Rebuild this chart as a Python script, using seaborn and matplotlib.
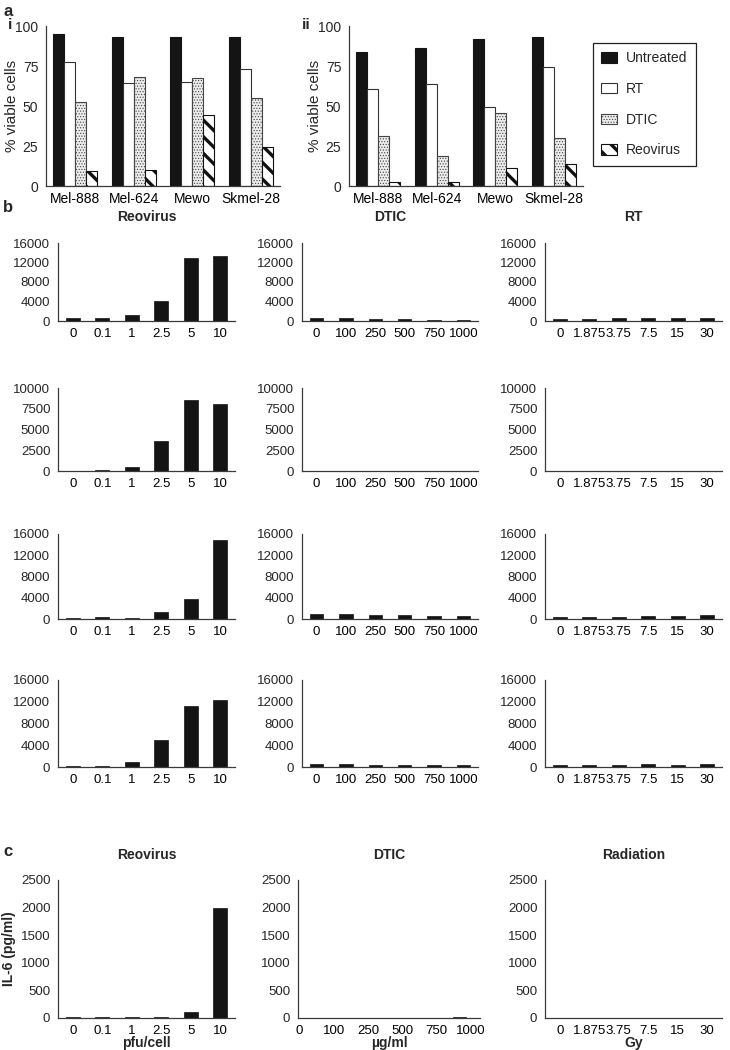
import numpy as np
import pandas as pd
import matplotlib
matplotlib.use("Agg")
import matplotlib.pyplot as plt
import seaborn as sns

# ---------------- data ----------------
cell_lines = ["Mel-888", "Mel-624", "Mewo", "Skmel-28"]
treatments = ["Untreated", "RT", "DTIC", "Reovirus"]

viable_i_untreated = [94.8, 93.1, 93.1, 93.3]
viable_i_rt = [77.7, 64.1, 65.1, 73.0]
viable_i_dtic = [52.2, 68.0, 67.8, 55.1]
viable_i_reovirus = [9.4, 9.8, 44.5, 24.4]

viable_ii_untreated = [83.9, 86.0, 91.6, 93.1]
viable_ii_rt = [60.8, 63.5, 49.5, 74.1]
viable_ii_dtic = [31.1, 18.8, 45.9, 30.0]
viable_ii_reovirus = [2.5, 2.5, 11.5, 14.0]

reo_doses = ["0", "0.1", "1", "2.5", "5", "10"]
dtic_doses = ["0", "100", "250", "500", "750", "1000"]
rt_doses = ["0", "1.875", "3.75", "7.5", "15", "30"]

b_reo_row1 = [600, 600, 1150, 4200, 12900, 13300]
b_reo_row2 = [50, 150, 450, 3600, 8550, 8050]
b_reo_row3 = [280, 380, 200, 1400, 3800, 14900]
b_reo_row4 = [150, 250, 950, 4900, 11200, 12300]

b_dtic_row1 = [700, 600, 500, 400, 300, 200]
b_dtic_row2 = [40, 60, 60, 50, 50, 40]
b_dtic_row3 = [900, 900, 800, 700, 600, 600]
b_dtic_row4 = [500, 500, 400, 400, 400, 300]

b_rt_row1 = [500, 500, 600, 600, 600, 600]
b_rt_row2 = [60, 20, 10, 60, 20, 10]
b_rt_row3 = [350, 300, 450, 600, 600, 700]
b_rt_row4 = [350, 350, 350, 500, 350, 600]

b_yticks_16k = [0, 4000, 8000, 12000, 16000]
b_yticks_10k = [0, 2500, 5000, 7500, 10000]

c_il6_reo = [10, 25, 15, 15, 100, 2000]
c_il6_dtic = [0, 0, 0, 0, 0, 20]
c_il6_rad = [0, 0, 0, 0, 0, 0]
c_yticks = [0, 500, 1000, 1500, 2000, 2500]

# ---------------- style ----------------
sns.set_theme(style="white")
ARIAL = ["Liberation Sans", "DejaVu Sans"]
NARROW = ["Liberation Sans Narrow", "Liberation Sans", "DejaVu Sans"]
plt.rcParams["font.family"] = ARIAL
plt.rcParams["hatch.linewidth"] = 0.6

W, H = 730, 1050
fig = plt.figure(figsize=(W / 100, H / 100), dpi=100)
AXC = "#3a3a3a"
BAR = "#141414"


def add_ax(x0, x1, ytop, ybot):
    return fig.add_axes([x0 / W, 1 - ybot / H, (x1 - x0) / W, (ybot - ytop) / H])


def style_axes(ax, ymax, yticks, labels, fam, fs, minor_pos=None, label_pos=None):
    for s in ["top", "right"]:
        ax.spines[s].set_visible(False)
    for s in ["left", "bottom"]:
        ax.spines[s].set_color(AXC)
        ax.spines[s].set_linewidth(0.9)
    n = len(labels)
    ax.set_ylim(0, ymax)
    ax.set_yticks(yticks)
    ax.set_yticklabels([str(t) for t in yticks], family=fam, fontsize=fs)
    ax.set_xlim(-0.5, n - 0.5)
    if label_pos is None:
        label_pos = np.arange(n)
    ax.set_xticks(label_pos)
    ax.set_xticklabels(labels, family=fam, fontsize=fs)
    if minor_pos is None:
        minor_pos = np.arange(n) + 0.5
    ax.set_xticks(minor_pos, minor=True)
    ax.tick_params(axis="x", which="major", length=0, pad=5, colors="black")
    ax.tick_params(axis="x", which="minor", length=3.5, width=0.8, color=AXC, direction="out")
    ax.tick_params(axis="y", length=3.5, width=0.8, color=AXC, direction="out", pad=2)
    ax.set_xlabel("")
    ax.set_ylabel("")
    ax.grid(False)


A_STYLES = [
    dict(facecolor=BAR, edgecolor=BAR, hatch=None, hlw=0.6),
    dict(facecolor="white", edgecolor="#333333", hatch=None, hlw=0.6),
    dict(facecolor="#ececec", edgecolor="#444444", hatch="......", hlw=0.5),
    dict(facecolor="white", edgecolor="#111111", hatch="\\\\", hlw=2.4),
]


def apply_style(p, st):
    p.set_facecolor(st["facecolor"])
    p.set_edgecolor(st["edgecolor"])
    p.set_linewidth(0.8)
    if st["hatch"]:
        p.set_hatch(st["hatch"])
        if hasattr(p, "set_hatch_linewidth"):
            p.set_hatch_linewidth(st["hlw"])


# ---------------- panel a ----------------
def panel_a(ax, vals):
    df = pd.DataFrame({
        "cell": cell_lines * 4,
        "treatment": np.repeat(treatments, 4),
        "value": np.concatenate(vals),
    })
    sns.barplot(data=df, x="cell", y="value", hue="treatment", order=cell_lines,
                hue_order=treatments, palette=[BAR] * 4, saturation=1, width=0.76,
                errorbar=None, ax=ax, legend=False)
    for cont, st in zip(ax.containers, A_STYLES):
        for p in cont.patches:
            apply_style(p, st)
    style_axes(ax, 100, [0, 25, 50, 75, 100], cell_lines, ARIAL, 10)
    ax.tick_params(axis="x", which="major", pad=4)
    ax.set_ylabel("% viable cells", fontsize=11)
    ax.yaxis.set_label_coords(-0.115, 0.5)
    return [c.patches[0] for c in ax.containers]


ax_ai = add_ax(46, 280, 26, 186)
handles = panel_a(ax_ai, [viable_i_untreated, viable_i_rt, viable_i_dtic, viable_i_reovirus])
ax_aii = add_ax(349, 583, 26, 186)
panel_a(ax_aii, [viable_ii_untreated, viable_ii_rt, viable_ii_dtic, viable_ii_reovirus])

leg = fig.legend(handles, treatments, loc="upper left",
                 bbox_to_anchor=(593 / W, 1 - 43 / H), bbox_transform=fig.transFigure,
                 frameon=True, fancybox=False, edgecolor="#222222", framealpha=1,
                 labelspacing=1.2, handlelength=1.15, handleheight=0.75,
                 borderpad=0.6, handletextpad=0.65, fontsize=10, borderaxespad=0)
leg.get_frame().set_linewidth(0.9)
for h, st in zip(leg.legend_handles, A_STYLES):
    apply_style(h, st)

fig.text(4 / W, 1 - 11 / H, "a", fontsize=12, fontweight="bold", va="center")
fig.text(8 / W, 1 - 25 / H, "i", fontsize=11, fontweight="bold", va="center")
fig.text(302 / W, 1 - 25 / H, "ii", fontsize=11, fontweight="bold", va="center")

# ---------------- panel b ----------------
b_rows = [(243, 321), (388, 471), (534, 619), (680, 767)]
b_cols = [(58, 235), (302, 478), (545, 722)]
b_data = [
    [b_reo_row1, b_dtic_row1, b_rt_row1],
    [b_reo_row2, b_dtic_row2, b_rt_row2],
    [b_reo_row3, b_dtic_row3, b_rt_row3],
    [b_reo_row4, b_dtic_row4, b_rt_row4],
]
b_row_ticks = [b_yticks_16k, b_yticks_10k, b_yticks_16k, b_yticks_16k]
col_doses = [reo_doses, dtic_doses, rt_doses]
b_titles = ["Reovirus", "DTIC", "RT"]
FS = 9.5

for r, (yt, yb) in enumerate(b_rows):
    for c, (x0, x1) in enumerate(b_cols):
        ax = add_ax(x0, x1, yt, yb)
        doses = col_doses[c]
        sns.barplot(x=doses, y=b_data[r][c], order=doses, color=BAR, saturation=1,
                    width=0.46, edgecolor=BAR, linewidth=0.5, errorbar=None, ax=ax)
        ticks = b_row_ticks[r]
        style_axes(ax, ticks[-1], ticks, doses, NARROW, FS)
        if r == 0:
            ax.set_title(b_titles[c], family=NARROW, fontsize=10, fontweight="bold", pad=16)

fig.text(3 / W, 1 - 207 / H, "b", fontsize=12, fontweight="bold", va="center")

# ---------------- panel c ----------------
c_cols = [(58, 235), (298, 480), (545, 722)]
c_data = [c_il6_reo, c_il6_dtic, c_il6_rad]
c_titles = ["Reovirus", "DTIC", "Radiation"]
c_xlabels = ["pfu/cell", "\u00b5g/ml", "Gy"]
for c, (x0, x1) in enumerate(c_cols):
    ax = add_ax(x0, x1, 880, 1018)
    doses = col_doses[c]
    sns.barplot(x=doses, y=c_data[c], order=doses, color=BAR, saturation=1,
                width=0.46, edgecolor=BAR, linewidth=0.5, errorbar=None, ax=ax)
    if c == 1:
        style_axes(ax, 2500, c_yticks, doses, NARROW, FS,
                   minor_pos=np.arange(6) * 1.05 + 0.2,
                   label_pos=np.linspace(-0.45, 5.4, 6))
        ax.set_xlim(-0.5, 5.7)
    else:
        style_axes(ax, 2500, c_yticks, doses, NARROW, FS)
    ax.set_title(c_titles[c], family=NARROW, fontsize=10, fontweight="bold", pad=15)
    ax.set_xlabel(c_xlabels[c], family=NARROW, fontsize=10, fontweight="bold")
    ax.xaxis.set_label_coords(0.5, -0.13)
    if c == 0:
        ax.set_ylabel("IL-6 (pg/ml)", family=NARROW, fontsize=10, fontweight="bold")
        ax.yaxis.set_label_coords(-0.235, 0.5)

fig.text(3 / W, 1 - 852 / H, "c", fontsize=12, fontweight="bold", va="center")

fig.savefig("out.png", dpi=100)
